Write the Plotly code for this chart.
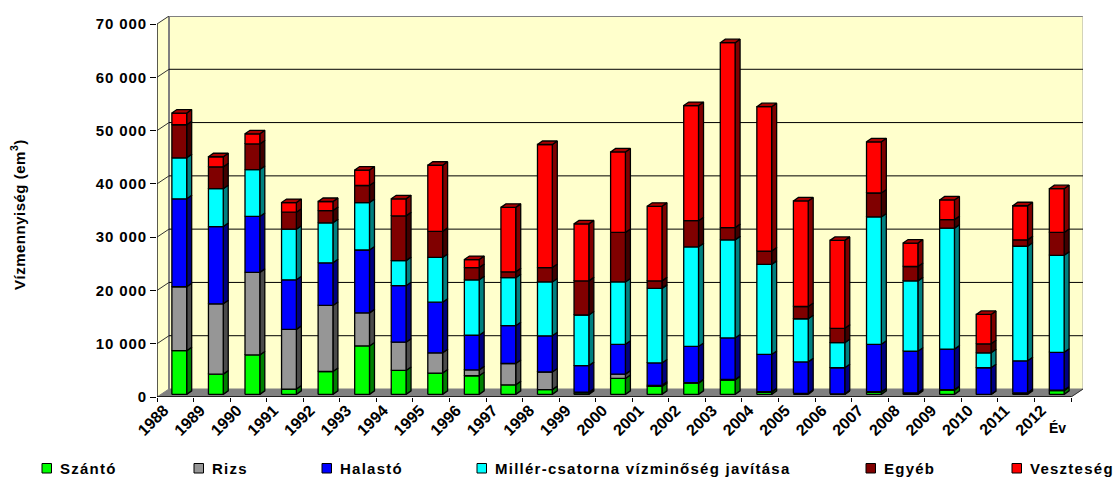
import plotly.graph_objects as go

years = list(range(1988, 2013))
szanto = [8200,3800,7400,1000,4300,9100,4500,4000,3500,1800,900,300,3000,1500,2100,2700,400,100,0,400,200,800,0,200,700]
rizs = [12000,13200,15500,11200,12400,6200,5300,3800,1100,4000,3300,100,800,200,100,100,100,100,100,100,100,100,0,100,100]
halasto = [16500,14500,10500,9300,8000,11800,10600,9500,6500,7100,6800,5000,5600,4200,6800,7800,7000,5900,4900,8900,7800,7600,5000,6000,7100]
miller = [7700,7100,8800,9500,7500,8900,4700,8400,10400,9000,10100,9500,11700,14000,18700,18400,16900,8100,4700,23900,13200,22700,2800,21500,18200]
egyeb = [6200,4100,4800,3200,2300,3200,8400,4900,2300,1100,2700,6400,9300,1400,4900,2300,2500,2300,2700,4500,2700,1600,1700,1200,4300]
veszteseg = [2200,1900,1900,1800,1700,2900,3200,12400,1500,12100,23100,10700,15100,14000,21600,34700,27100,19800,16500,9600,4400,3700,5500,6400,8200]
y_ticks = list(range(0, 70001, 10000))

series = [
    ("Szántó", szanto, "#00FF00", "#008000", 42),
    ("Rizs", rizs, "#969696", "#4B4B4B", 194),
    ("Halastó", halasto, "#0000FF", "#000080", 322),
    ("Millér-csatorna vízminőség javítása", miller, "#00FFFF", "#008080", 477),
    ("Egyéb", egyeb, "#800000", "#400000", 866),
    ("Veszteség", veszteseg, "#FF0000", "#800000", 1012),
]

# page geometry
W, H = 1114, 478
L, R, T, B = 157, 1083, 16, 397
PX_X = 914 / 25          # px per category
PX_Y = 373 / 70000       # px per unit
ux = lambda px: px / PX_X
uy = lambda px: px / PX_Y
DX, DY = ux(12), uy(8)   # wall depth
BX, BY = ux(5), uy(3.5)  # bar depth
BW = ux(14.8)
BSHIFT = ux(4)
BASE = uy(2.6)
XMAX, YMAX = ux(R - L), uy(B - T)
N = len(years)

fig = go.Figure()

def poly(pts_list, fill, line="#000000", lw=1.3, name=None):
    xs, ys = [], []
    for pts in pts_list:
        xs += [p[0] for p in pts] + [pts[0][0], None]
        ys += [p[1] for p in pts] + [pts[0][1], None]
    fig.add_trace(go.Scatter(x=xs, y=ys, mode="lines", fill="toself", fillcolor=fill,
                             line=dict(color=line, width=lw), hoverinfo="skip",
                             showlegend=False, name=name))

def lines(segs, color="#000000", lw=1):
    xs, ys = [], []
    for a, b in segs:
        xs += [a[0], b[0], None]
        ys += [a[1], b[1], None]
    fig.add_trace(go.Scatter(x=xs, y=ys, mode="lines", line=dict(color=color, width=lw),
                             hoverinfo="skip", showlegend=False))

# walls and floor
poly([[(0, 0), (0, 70000), (DX, 70000 + DY), (DX, DY)]], "#FFFFCC", "#FFFFCC", 0)
poly([[(DX, DY), (DX, 70000 + DY), (N + DX, 70000 + DY), (N + DX, DY)]], "#FFFFCC", "#FFFFCC", 0)
poly([[(0, 0), (N, 0), (N + DX, DY), (DX, DY)]], "#808080", "#808080", 1)
lines([((DX, DY), (DX, 70000 + DY)), ((DX, 70000 + DY), (N + DX, 70000 + DY))], "#808080", 2)
lines([((N + DX, DY), (N + DX, 70000 + DY))], "#A6A6A6", 1)
lines([((DX, v + DY), (N + DX, v + DY)) for v in y_ticks[1:-1]], "#000000", 1)
lines([((0, v), (DX, v + DY)) for v in y_ticks[1:]] + [((N, 0), (N + DX, DY))], "#333333", 1)

# bars: stacked boxes in data units
bottoms = [BASE] * N
for idx, (name, vals, col, dark, _) in enumerate(series):
    fronts, sides, tops = [], [], []
    for i, v in enumerate(vals):
        cx = i + 0.5 + BSHIFT
        x0, x1 = cx - BW / 2, cx + BW / 2
        y0, y1 = bottoms[i], bottoms[i] + v
        fronts.append([(x0, y0), (x1, y0), (x1, y1), (x0, y1)])
        sides.append([(x1, y0), (x1 + BX, y0 + BY), (x1 + BX, y1 + BY), (x1, y1)])
        tops.append([(x0, y1), (x1, y1), (x1 + BX, y1 + BY), (x0 + BX, y1 + BY)])
        bottoms[i] = y1
    poly(sides, dark)
    poly(fronts, col, name=name)
    if idx == len(series) - 1:
        poly(tops, "#AA0000")

# front axis lines
lines([((0, 0), (0, 70000))], "#222222", 1.5)
lines([((0, 0), (N, 0))], "#000000", 1.5)

# dummy trace that keeps the tick-mark axis alive
fig.add_trace(go.Scatter(x=[0, N], y=[0, 0], xaxis="x2", mode="lines", line=dict(width=0),
                         hoverinfo="skip", showlegend=False))

font = dict(family="Liberation Sans", color="#000000", weight="bold")
ann, shapes = [], []
px = lambda p: (p - L) / (R - L)
py = lambda p: (B - p) / (B - T)

for name, _, col, _, xp in series:
    shapes.append(dict(type="rect", xref="paper", yref="paper", x0=px(xp), x1=px(xp + 9.5),
                       y0=py(473), y1=py(463.5), fillcolor=col, line=dict(color="#000000", width=1)))
    ann.append(dict(xref="paper", yref="paper", x=px(xp + 16), y=py(468), text=name, showarrow=False,
                    xanchor="left", yanchor="middle", font=dict(size=15, **font)))
ann.append(dict(xref="paper", yref="paper", x=px(1057), y=py(428), text="Év", showarrow=False,
                xanchor="center", yanchor="middle", font=dict(size=14, **font)))
ann.append(dict(xref="paper", yref="paper", x=px(18), y=py(214.5), text="Vízmennyiség (em<sup>3</sup>)",
                textangle=-90, showarrow=False, xanchor="center", yanchor="middle",
                font=dict(size=15, **font)))

fig.update_layout(
    width=W, height=H, autosize=False, showlegend=False,
    margin=dict(l=L, r=W - R, t=T, b=H - B),
    paper_bgcolor="#FFFFFF", plot_bgcolor="rgba(0,0,0,0)",
    font=font, annotations=ann, shapes=shapes,
    xaxis=dict(range=[0, XMAX], tickmode="array", tickvals=[i + 0.19 for i in range(N)],
               ticktext=[str(y) for y in years], tickangle=-45, ticks="", showgrid=False,
               zeroline=False, showline=False, tickfont=dict(size=16, **font)),
    xaxis2=dict(range=[0, XMAX], overlaying="x", anchor="y", side="bottom", tickmode="array",
                tickvals=list(range(N + 1)), showticklabels=False, ticks="outside", ticklen=4,
                tickcolor="#000000", showgrid=False, zeroline=False, showline=False),
    yaxis=dict(range=[0, YMAX], tickmode="array", tickvals=y_ticks,
               ticktext=[f"{v:,}".replace(",", " ") for v in y_ticks], ticks="outside",
               ticklen=6, tickcolor="#000000", showgrid=False, zeroline=False, showline=False,
               tickfont=dict(size=15, **font)),
)

post = """
document.body.style.margin='0';document.body.style.overflow='hidden';
document.querySelectorAll('.annotation-text').forEach(function(t){
  var s=t.textContent;
  if(s.indexOf('mennyis')>=0){t.style.letterSpacing='0.5px';return;}
  if(s==='Év')return;
  var a=t.getBBox().x; t.style.letterSpacing='1.25px'; var b=t.getBBox().x;
  t.setAttribute('x',parseFloat(t.getAttribute('x'))+a-b);
});
document.querySelectorAll('.ytick text').forEach(function(t){t.style.letterSpacing='0.9px';});
"""
fig.write_html("out.html", post_script=post, config=dict(displayModeBar=False))
